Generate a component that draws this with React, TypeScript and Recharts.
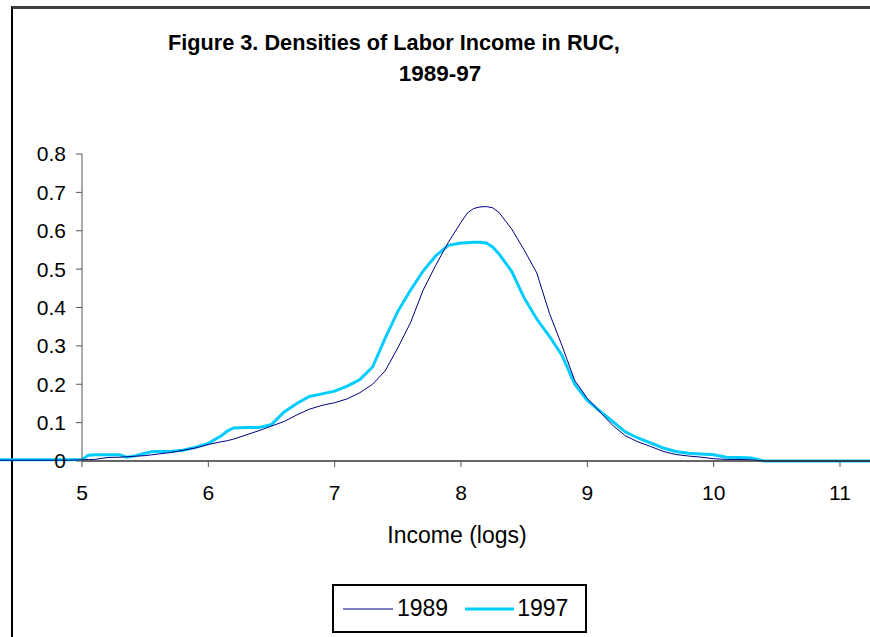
import React from "react";
import { LineChart, Line, XAxis, YAxis } from "recharts";

const xValues = [
  4.35, 4.5, 4.7, 4.9, 5.0, 5.05, 5.1, 5.2, 5.3, 5.35, 5.4, 5.5, 5.55, 5.6, 5.7, 5.8, 5.9,
  6.0, 6.1, 6.15, 6.2, 6.3, 6.4, 6.5, 6.6, 6.7, 6.8, 6.9, 7.0, 7.1, 7.2, 7.3, 7.4, 7.5,
  7.6, 7.7, 7.8, 7.9, 8.0, 8.05, 8.1, 8.15, 8.2, 8.25, 8.3, 8.4, 8.5, 8.6, 8.7, 8.8, 8.9, 9.0, 9.1, 9.2,
  9.3, 9.4, 9.5, 9.6, 9.7, 9.8, 9.9, 10.0, 10.1, 10.2, 10.3, 10.4, 10.5, 11.0, 11.2375,
];

const density1989 = [
  0.002, 0.002, 0.002, 0.002, 0.003, 0.004, 0.004, 0.009, 0.01, 0.011, 0.012, 0.014, 0.016, 0.018, 0.022, 0.028, 0.034,
  0.043, 0.05, 0.053, 0.057, 0.068, 0.079, 0.091, 0.103, 0.12, 0.135, 0.145, 0.152, 0.162, 0.178, 0.2, 0.235, 0.295,
  0.36, 0.445, 0.51, 0.57, 0.622, 0.646, 0.658, 0.662, 0.663, 0.66, 0.648, 0.605, 0.55, 0.49, 0.385, 0.3, 0.21, 0.163, 0.128, 0.093,
  0.066, 0.05, 0.038, 0.025, 0.017, 0.013, 0.01, 0.006, 0.004, 0.004, 0.003, 0.0, 0.0, 0.0, 0.0,
];

const density1997 = [
  0.003, 0.003, 0.003, 0.003, 0.004, 0.015, 0.016, 0.016, 0.016, 0.01, 0.012, 0.02, 0.024, 0.025, 0.025, 0.028, 0.036,
  0.046, 0.065, 0.078, 0.086, 0.087, 0.087, 0.095, 0.128, 0.15, 0.168, 0.175, 0.182, 0.195, 0.212, 0.245, 0.32, 0.39,
  0.445, 0.495, 0.535, 0.562, 0.568, 0.569, 0.57, 0.57, 0.568, 0.558, 0.54, 0.495, 0.425, 0.37, 0.325, 0.275, 0.2, 0.158, 0.13, 0.103,
  0.076, 0.06, 0.047, 0.034, 0.025, 0.02, 0.018, 0.016, 0.01, 0.009, 0.008, 0.0, 0.0, 0.0, 0.0,
];

const xTicks = [5, 6, 7, 8, 9, 10, 11];
const yTicks = [0, 0.1, 0.2, 0.3, 0.4, 0.5, 0.6, 0.7, 0.8];
const seriesNames = ["1989", "1997"];
const titleLines = ["Figure 3. Densities of Labor Income in RUC,", "1989-97"];
const xAxisTitle = "Income (logs)";

const data = xValues.map((x, i) => ({
  x,
  y1989: density1989[i],
  y1997: density1997[i],
}));

const FONT = "'Liberation Sans', Arial, Helvetica, sans-serif";

function ChartLegend() {
  return (
    <div
      style={{
        position: "absolute",
        left: 332,
        top: 584,
        boxSizing: "border-box",
        width: 255,
        height: 49,
        border: "2px solid #000",
        background: "#fff",
        display: "flex",
        alignItems: "center",
        fontFamily: FONT,
        fontSize: 23,
        color: "#000",
        paddingLeft: 9,
      }}
    >
      <svg width={50} height={6} style={{ marginRight: 4 }}>
        <line x1={0} y1={3} x2={50} y2={3} stroke="#000080" strokeWidth={1} />
      </svg>
      <span style={{ marginRight: 17 }}>{seriesNames[0]}</span>
      <svg width={49} height={6} style={{ marginRight: 3 }}>
        <line x1={0} y1={3} x2={49} y2={3} stroke="#00CCFF" strokeWidth={3} />
      </svg>
      <span>{seriesNames[1]}</span>
    </div>
  );
}

export default function App() {
  return (
    <div
      style={{
        position: "absolute",
        left: 0,
        top: 0,
        width: 870,
        height: 637,
        overflow: "hidden",
        background: "#fff",
      }}
    >
      <style>{`.recharts-line, .recharts-line * { clip-path: none !important; }`}</style>
      <div
        style={{
          position: "absolute",
          left: 11,
          top: 6,
          width: 1000,
          height: 1000,
          borderTop: "3px solid #404040",
          borderLeft: "2px solid #000",
        }}
      />
      <div
        style={{
          position: "absolute",
          left: 168,
          top: 30,
          fontFamily: FONT,
          fontWeight: "bold",
          fontSize: 21.7,
          whiteSpace: "nowrap",
          color: "#000",
        }}
      >
        {titleLines[0]}
      </div>
      <div
        style={{
          position: "absolute",
          left: 340,
          width: 200,
          top: 61,
          textAlign: "center",
          fontFamily: FONT,
          fontWeight: "bold",
          fontSize: 22.5,
          color: "#000",
        }}
      >
        {titleLines[1]}
      </div>
      <div
        style={{
          position: "absolute",
          left: 357,
          width: 200,
          top: 522,
          textAlign: "center",
          fontFamily: FONT,
          fontSize: 23,
          color: "#000",
        }}
      >
        {xAxisTitle}
      </div>
      <div style={{ position: "absolute", left: 0, top: 0 }}>
        <LineChart
          width={870}
          height={637}
          data={data}
          margin={{ top: 154, right: 0, bottom: 136, left: 0 }}
        >
          <XAxis
            dataKey="x"
            type="number"
            domain={[5, 11.2375]}
            allowDataOverflow
            ticks={xTicks}
            height={40}
            tickSize={6}
            tickMargin={18}
            axisLine={{ stroke: "#333", strokeWidth: 1.5 }}
            tickLine={{ stroke: "#555" }}
            tick={{ fill: "#000", fontSize: 21, fontFamily: FONT }}
          />
          <YAxis
            type="number"
            domain={[0, 0.8]}
            ticks={yTicks}
            width={82}
            tickSize={6}
            tickMargin={10}
            axisLine={{ stroke: "#555" }}
            tickLine={{ stroke: "#555" }}
            tick={{ fill: "#000", fontSize: 21, fontFamily: FONT }}
          />
          <Line
            dataKey="y1997"
            name={seriesNames[1]}
            type="linear"
            stroke="#00CCFF"
            strokeWidth={3}
            dot={false}
            isAnimationActive={false}
          />
          <Line
            dataKey="y1989"
            name={seriesNames[0]}
            type="linear"
            stroke="#000080"
            strokeWidth={1}
            dot={false}
            isAnimationActive={false}
          />
        </LineChart>
      </div>
      <ChartLegend />
    </div>
  );
}
